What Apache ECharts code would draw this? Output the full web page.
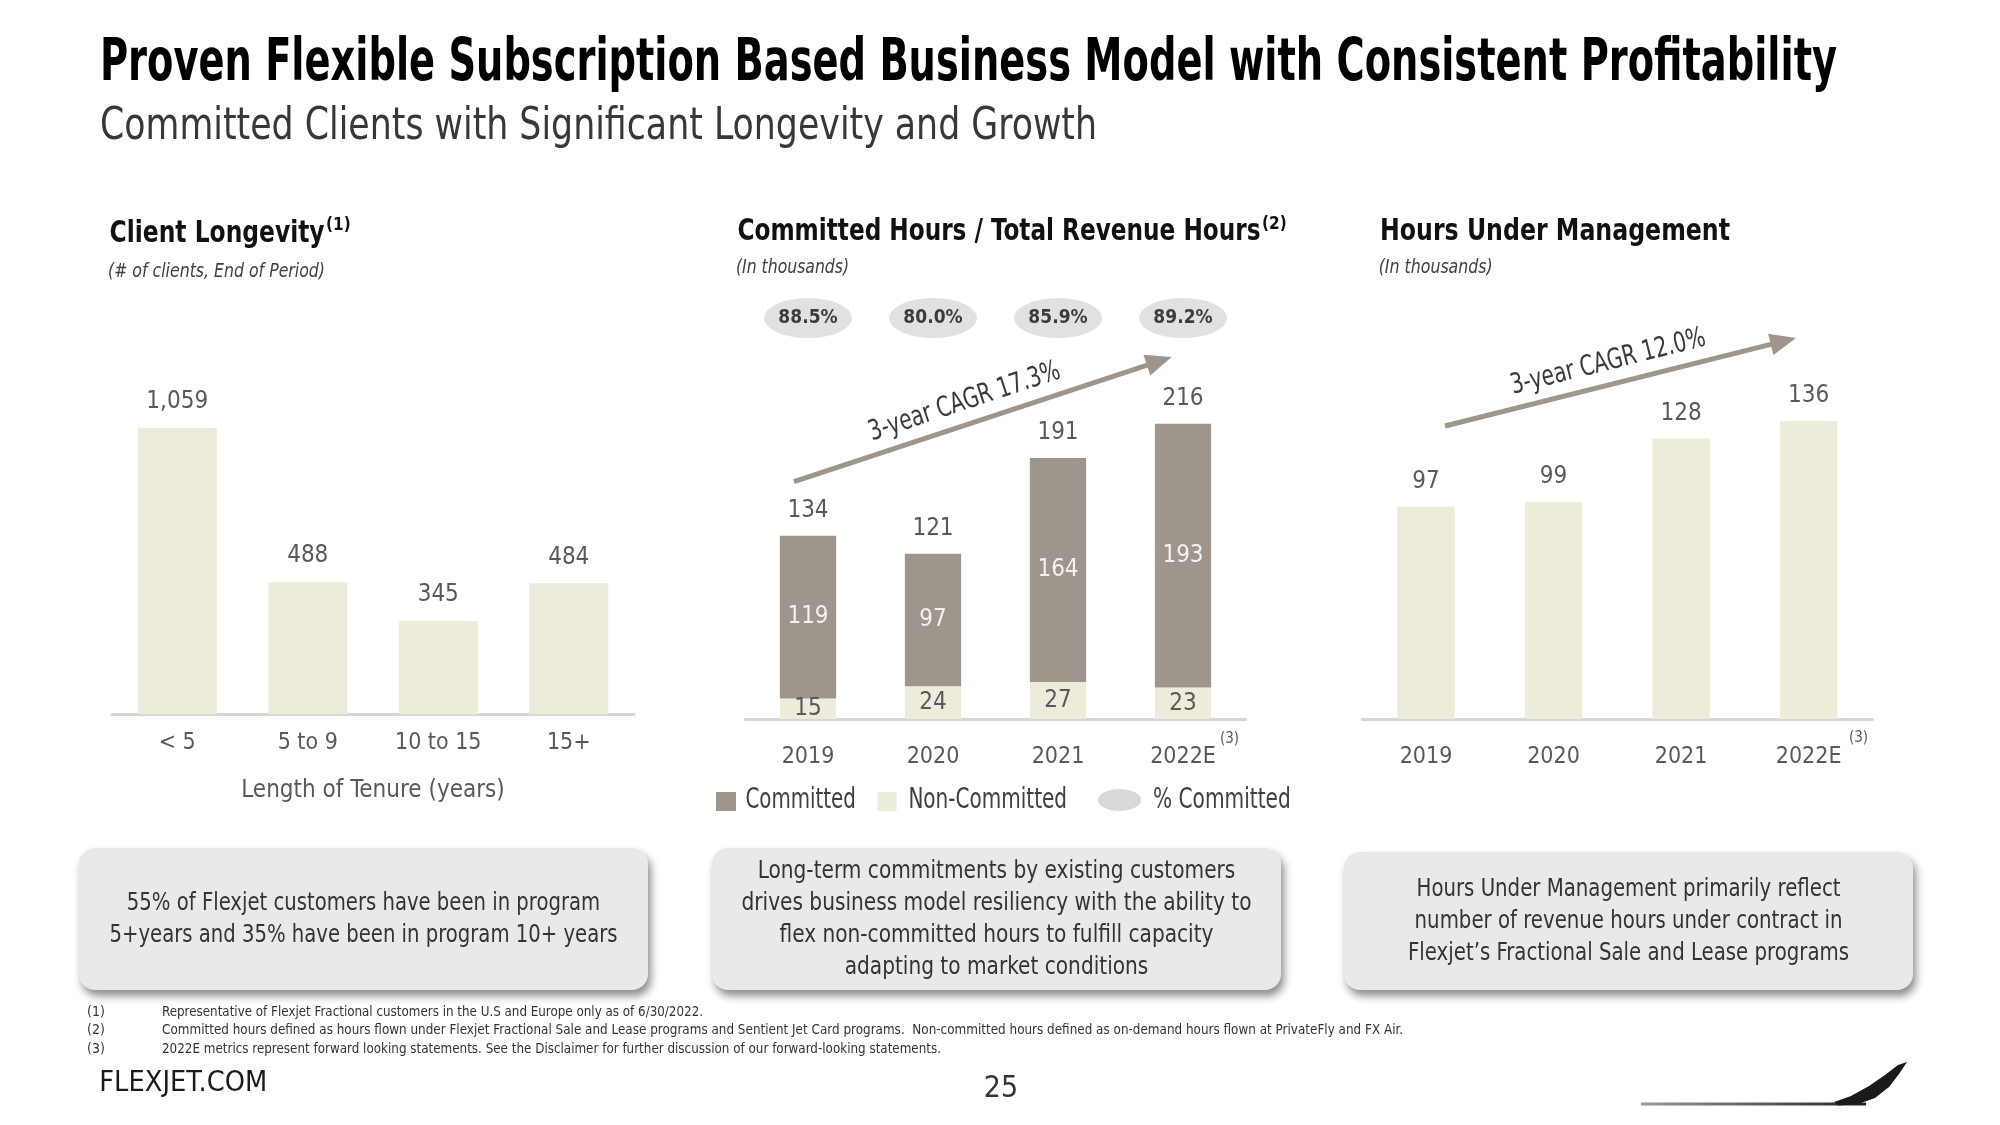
<!DOCTYPE html>
<html><head><meta charset="utf-8">
<script src="https://cdn.jsdelivr.net/npm/echarts@6/dist/echarts.min.js"></script>
<style>html,body{margin:0;padding:0;background:#fff;}#c{width:2000px;height:1125px;}</style>
</head><body><div id="c"></div>
<script>
// ---------- data ----------
const tenureCats = ['< 5', '5 to 9', '10 to 15', '15+'];
const tenureClients = [1059, 488, 345, 484];
const hourYears = ['2019', '2020', '2021', '2022E'];
const committedHours = [119, 97, 164, 193];
const nonCommittedHours = [15, 24, 27, 23];
const pctCommitted = ['88.5%', '80.0%', '85.9%', '89.2%'];
const mgmtYears = ['2019', '2020', '2021', '2022E'];
const hoursUnderMgmt = [97, 99, 128, 136];
const cagrHoursLabel = '3-year CAGR 17.3%';
const cagrMgmtLabel = '3-year CAGR 12.0%';

// ---------- styling ----------
const FONT = '"Liberation Sans Narrow","DejaVu Sans Condensed","Open Sans",sans-serif';
const CREAM = '#edebda', GREY = '#9e958d', PILL = '#d9d9d9', TXT = '#595959';
const mctx = document.createElement('canvas').getContext('2d');
function measure(text, size, weight, fstyle) {
  mctx.font = `${fstyle || 'normal'} ${weight || 'normal'} ${size}px ${FONT}`;
  return mctx.measureText(text).width;
}
function txt(text, x, y, o) {
  const size = o.size, weight = o.weight || 'normal', fstyle = o.style || 'normal';
  let sx = 1;
  if (o.w) {
    const lines = text.split('\n');
    const mw = Math.max(...lines.map(l => measure(l, size, weight, fstyle)));
    sx = o.w / mw;
  }
  const al = o.align || 'left';
  return {
    type: 'text', x: x, y: y, scaleX: sx, rotation: o.rot || 0, z: 20,
    style: {
      text: text, x: 0, y: 0, fontSize: size, fontWeight: weight, fontStyle: fstyle,
      fontFamily: FONT, fill: o.color || '#404040', lineHeight: o.lh,
      align: al, textAlign: al, verticalAlign: 'middle', textVerticalAlign: 'middle'
    }
  };
}
function arrow(x1, y1, x2, y2, label, frac) {
  const dx = x2 - x1, dy = y2 - y1, L = Math.hypot(dx, dy);
  const ux = dx / L, uy = dy / L, px = uy, py = -ux;
  const hl = 26, hw = 11;
  const bx = x2 - ux * hl, by = y2 - uy * hl;
  const tx = x1 + ux * L * frac + px * 22, ty = y1 + uy * L * frac + py * 22;
  return [
    { type: 'line', z: 15, shape: { x1: x1, y1: y1, x2: bx + ux * 2, y2: by + uy * 2 }, style: { stroke: GREY, lineWidth: 5 } },
    { type: 'polygon', z: 15, shape: { points: [[x2, y2], [bx + px * hw, by + py * hw], [bx - px * hw, by - py * hw]] }, style: { fill: GREY } },
    txt(label, tx, ty, { size: 28, color: '#3a3a3a', align: 'center', rot: Math.atan2(-dy, dx), w: 200 })
  ];
}
function box(x, y, w, h, lines, tw) {
  return [
    { type: 'rect', z: 5, shape: { x: x, y: y, width: w, height: h, r: 16 },
      style: { fill: '#ebe9e7', shadowBlur: 8, shadowOffsetX: 3, shadowOffsetY: 6, shadowColor: 'rgba(0,0,0,0.45)' } },
    txt(lines.join('\n'), x + w / 2, y + h / 2, { size: 25, color: '#333333', align: 'center', lh: 32, w: tw })
  ];
}

const totals = committedHours.map((c, i) => c + nonCommittedHours[i]);

const labelBase = { fontFamily: FONT, fontSize: 24, color: TXT };
const axisCommon = (gi, data, margin) => ({
  gridIndex: gi, type: 'category', data: data,
  axisLine: { lineStyle: { color: '#d6d6d6', width: 3 } },
  axisTick: { show: false },
  axisLabel: { color: TXT, fontSize: 23, fontFamily: FONT, margin: margin }
});

const graphics = [].concat(
  [
    txt('Proven Flexible Subscription Based Business Model with Consistent Profitability', 100, 65, { size: 58, weight: 'bold', color: '#000', w: 1737 }),
    txt('Committed Clients with Significant Longevity and Growth', 100, 128, { size: 44, color: '#383838', w: 997 }),
    txt('Client Longevity', 109.6, 233.5, { size: 31, weight: 'bold', color: '#111', w: 215 }),
    txt('(1)', 326, 226, { size: 17, weight: 'bold', color: '#111' }),
    txt('(# of clients, End of Period)', 108, 272.5, { size: 19, style: 'italic', color: '#404040', w: 217 }),
    txt('Committed Hours / Total Revenue Hours', 737.5, 231.6, { size: 31, weight: 'bold', color: '#111', w: 523 }),
    txt('(2)', 1262, 225, { size: 17, weight: 'bold', color: '#111' }),
    txt('(In thousands)', 736, 268, { size: 19, style: 'italic', color: '#404040', w: 113 }),
    txt('Hours Under Management', 1380, 231.6, { size: 31, weight: 'bold', color: '#111', w: 350 }),
    txt('(In thousands)', 1378.7, 268, { size: 19, style: 'italic', color: '#404040', w: 114 }),
    txt('(3)', 1220, 739, { size: 15, color: TXT }),
    txt('(3)', 1849, 738, { size: 15, color: TXT }),
    // legend
    { type: 'rect', z: 15, shape: { x: 716, y: 792, width: 20, height: 19 }, style: { fill: GREY } },
    txt('Committed', 745.4, 801, { size: 28, color: '#404040', w: 110.5 }),
    { type: 'rect', z: 15, shape: { x: 877.6, y: 792, width: 19, height: 19 }, style: { fill: CREAM } },
    txt('Non-Committed', 908.4, 801, { size: 28, color: '#404040', w: 158.6 }),
    { type: 'ellipse', z: 15, shape: { cx: 1119.5, cy: 800, rx: 21.7, ry: 11 }, style: { fill: PILL } },
    txt('% Committed', 1153, 801, { size: 28, color: '#404040', w: 137.7 }),
    // footer
    txt('(1)', 87, 1012, { size: 14, color: '#333' }),
    txt('(2)', 87, 1030.5, { size: 14, color: '#333' }),
    txt('(3)', 87, 1049, { size: 14, color: '#333' }),
    txt('Representative of Flexjet Fractional customers in the U.S and Europe only as of 6/30/2022.', 162, 1012, { size: 14, color: '#333', w: 541 }),
    txt('Committed hours defined as hours flown under Flexjet Fractional Sale and Lease programs and Sentient Jet Card programs.  Non-committed hours defined as on-demand hours flown at PrivateFly and FX Air.', 162, 1030.5, { size: 14, color: '#333', w: 1241 }),
    txt('2022E metrics represent forward looking statements. See the Disclaimer for further discussion of our forward-looking statements.', 162, 1049, { size: 14, color: '#333', w: 779 }),
    txt('FLEXJET.COM', 99.3, 1084, { size: 28, color: '#1a1a1a', w: 168 }),
    txt('25', 1001, 1089, { size: 30, color: '#333', align: 'center' }),
    { type: 'line', z: 15, shape: { x1: 1641, y1: 1104, x2: 1866, y2: 1104 },
      style: { lineWidth: 3, stroke: { type: 'linear', x: 0, y: 0, x2: 1, y2: 0, colorStops: [{ offset: 0, color: '#9a9a9a' }, { offset: 0.6, color: '#555' }, { offset: 1, color: '#222' }] } } },
    { type: 'polygon', z: 16, shape: { points: [[1838, 1105.5], [1858, 1104], [1875, 1098], [1889, 1087], [1899, 1074], [1907, 1062], [1898, 1065], [1885, 1075], [1869, 1086], [1851, 1096], [1834, 1102]] }, style: { fill: '#1a1a1a' } }
  ],
  arrow(794, 481.6, 1171.6, 357, cagrHoursLabel, 0.47),
  arrow(1445, 426, 1796, 338, cagrMgmtLabel, 0.48),
  box(79, 848, 569, 142, ['55% of Flexjet customers have been in program', '5+years and 35% have been in program 10+ years'], 508),
  box(712, 848, 569, 142, ['Long-term commitments by existing customers', 'drives business model resiliency with the ability to', 'flex non-committed hours to fulfill capacity', 'adapting to market conditions'], 510),
  box(1344, 852, 569, 138, ['Hours Under Management primarily reflect', 'number of revenue hours under contract in', 'Flexjet\u2019s Fractional Sale and Lease programs'], 441)
);

const option = {
  animation: false,
  backgroundColor: '#ffffff',
  grid: [
    { left: 112, top: 389.6, width: 522, height: 324.6, outerBoundsMode: 'none' },
    { left: 745.5, top: 309, width: 500, height: 410, outerBoundsMode: 'none' },
    { left: 1362.2, top: 368.4, width: 510.2, height: 350.6, outerBoundsMode: 'none' }
  ],
  xAxis: [
    Object.assign(axisCommon(0, tenureCats, 17), {
      name: 'Length of Tenure (years)', nameLocation: 'middle', nameGap: 65,
      nameTextStyle: { color: TXT, fontSize: 24, fontFamily: FONT }
    }),
    axisCommon(1, hourYears, 27),
    axisCommon(2, mgmtYears, 27)
  ],
  yAxis: [
    { gridIndex: 0, type: 'value', min: 0, max: 1200, show: false },
    { gridIndex: 1, type: 'value', min: 0, max: 300, show: false },
    { gridIndex: 2, type: 'value', min: 0, max: 160, show: false }
  ],
  series: [
    { type: 'bar', xAxisIndex: 0, yAxisIndex: 0, data: tenureClients, barWidth: '60.6%',
      itemStyle: { color: CREAM },
      label: Object.assign({ show: true, position: 'top', distance: 14,
        formatter: p => p.value.toLocaleString('en-US') }, labelBase) },
    { name: 'Non-Committed', type: 'bar', xAxisIndex: 1, yAxisIndex: 1, stack: 'hrs', data: nonCommittedHours,
      barWidth: '45%', barGap: '-100%', itemStyle: { color: CREAM },
      label: Object.assign({ show: true, position: 'inside' }, labelBase) },
    { name: 'Committed', type: 'bar', xAxisIndex: 1, yAxisIndex: 1, stack: 'hrs', data: committedHours,
      barWidth: '45%', barGap: '-100%', itemStyle: { color: GREY },
      label: Object.assign({}, labelBase, { show: true, position: 'inside', color: '#f4f2f0' }) },
    { name: 'Total', type: 'bar', xAxisIndex: 1, yAxisIndex: 1, data: totals, z: 1,
      barWidth: '45%', barGap: '-100%', itemStyle: { color: 'rgba(0,0,0,0)' },
      label: Object.assign({ show: true, position: 'top', distance: 13 }, labelBase) },
    { name: '% Committed', type: 'scatter', xAxisIndex: 1, yAxisIndex: 1,
      data: pctCommitted.map((p, i) => [i, 293.4]),
      symbol: 'circle', symbolSize: [88, 40], itemStyle: { color: PILL },
      label: { show: true, position: 'inside', formatter: p => pctCommitted[p.dataIndex],
        fontFamily: FONT, fontSize: 19, fontWeight: 'bold', color: '#111' } },
    { type: 'bar', xAxisIndex: 2, yAxisIndex: 2, data: hoursUnderMgmt, barWidth: '45%',
      itemStyle: { color: CREAM },
      label: Object.assign({ show: true, position: 'top', distance: 13 }, labelBase) }
  ],
  graphic: { elements: graphics }
};

const chart = echarts.init(document.getElementById('c'), null, { renderer: 'canvas' });
chart.setOption(option);
</script>
</body></html>
